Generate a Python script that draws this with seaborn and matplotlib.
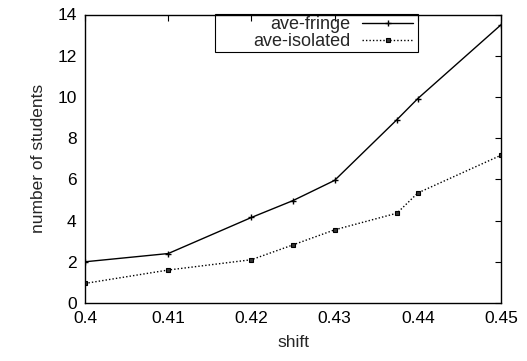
import pandas as pd
import matplotlib
matplotlib.use('Agg')
import matplotlib.pyplot as plt
from matplotlib.patches import Rectangle
import seaborn as sns

# data
shift = [0.40, 0.41, 0.42, 0.425, 0.43, 0.4375, 0.44, 0.45]
ave_fringe = [2.0, 2.4, 4.15, 4.97, 5.95, 8.9, 9.92, 13.5]
ave_isolated = [0.95, 1.6, 2.1, 2.82, 3.55, 4.36, 5.34, 7.17]

xticks = [0.4, 0.41, 0.42, 0.43, 0.44, 0.45]
xtick_labels = ['0.4', '0.41', '0.42', '0.43', '0.44', '0.45']
yticks = [0, 2, 4, 6, 8, 10, 12, 14]

df = pd.DataFrame({'shift': shift, 'ave-fringe': ave_fringe, 'ave-isolated': ave_isolated})

sns.set_style('white')
plt.rcParams['font.family'] = ['Liberation Sans', 'DejaVu Sans']
fs = 12.5

W, H = 527, 361
fig = plt.figure(figsize=(W / 100, H / 100), dpi=100)
ax = fig.add_axes([85 / W, 1 - 303 / H, 416 / W, 288.5 / H])

sns.lineplot(data=df, x='shift', y='ave-fringe', ax=ax, color='black', lw=1.0,
             marker='+', markersize=5, markeredgewidth=1.0,
             markeredgecolor='black', label='ave-fringe')
sns.lineplot(data=df, x='shift', y='ave-isolated', ax=ax, color='black', lw=1.0,
             linestyle=(0, (1, 1.5)), marker='s', markersize=3.3,
             markeredgewidth=0.8, markeredgecolor='black',
             markerfacecolor='#333333', label='ave-isolated')

ax.set_xlim(0.4, 0.45)
ax.set_ylim(0, 14)
ax.set_xticks(xticks)
ax.set_xticklabels(xtick_labels)
ax.set_yticks(yticks)
ax.tick_params(direction='in', length=4, width=0.8, top=True, right=True,
               labelsize=fs, colors='black', pad=6)
for s in ax.spines.values():
    s.set_color('black')
    s.set_linewidth(1.0)
ax.set_xlabel('shift', fontsize=fs, labelpad=6)
ax.set_ylabel('number of students', fontsize=fs, labelpad=8)

# gnuplot-like key: text right aligned, sample on the right, fixed box
def to_ax(px, py):
    return (px - 85) / 416, (303 - py) / 288.5

x0, y0 = to_ax(215, 52)
x1, y1 = to_ax(418, 14.5)
ax.add_patch(Rectangle((x0, y0), x1 - x0, y1 - y0, transform=ax.transAxes,
                       fill=False, edgecolor='black', lw=0.8, zorder=1,
                       clip_on=False))
ax_r, ax_t = to_ax(413, 16)
leg = ax.legend(loc='upper right', bbox_to_anchor=(ax_r, ax_t),
                markerfirst=False, frameon=False,
                fontsize=13, borderpad=0, labelspacing=0.0,
                handlelength=2.8, handletextpad=0.65, borderaxespad=0)
for t in leg.get_texts():
    t.set_ha('right')
leg._legend_box.align = 'right'

fig.savefig('out.png', dpi=100)
